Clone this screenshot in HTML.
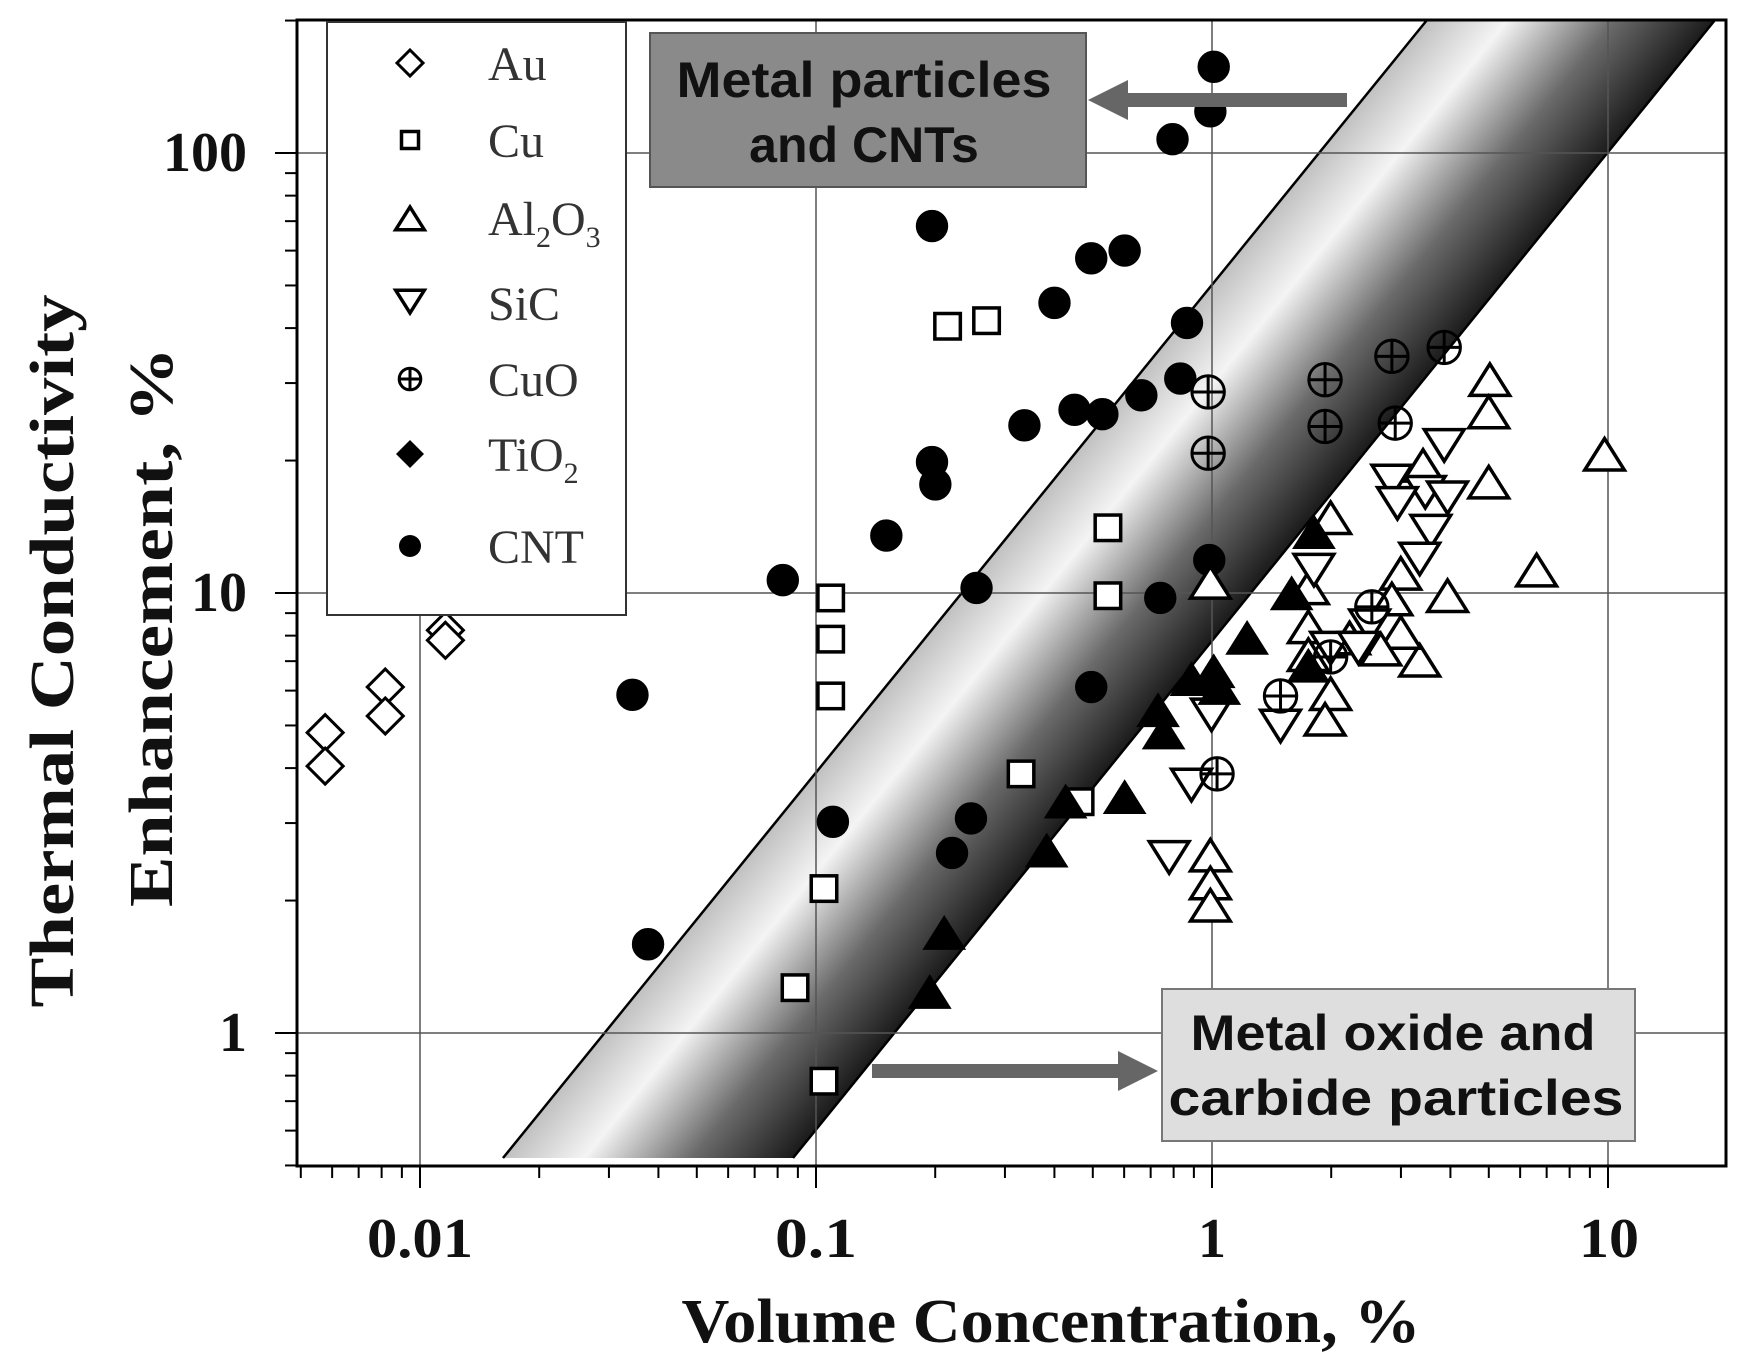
<!DOCTYPE html>
<html><head><meta charset="utf-8"><style>
html,body{margin:0;padding:0;background:#fff;width:1746px;height:1358px;overflow:hidden}
svg{display:block}
.serif{font-family:"Liberation Serif",serif;font-weight:bold}
.sans{font-family:"Liberation Sans",sans-serif;font-weight:bold}
</style></head><body>
<svg id="s" width="1746" height="1358" viewBox="0 0 1746 1358" xmlns="http://www.w3.org/2000/svg">
<defs>
<linearGradient id="g" gradientUnits="userSpaceOnUse" x1="503" y1="1158" x2="678" y2="1300">
<stop offset="0" stop-color="#c0c0c0"/><stop offset="0.28" stop-color="#f4f4f4"/><stop offset="0.65" stop-color="#6a6a6a"/><stop offset="1" stop-color="#1a1a1a"/>
</linearGradient>
<clipPath id="c"><rect x="297" y="20" width="1429" height="1146"/></clipPath>
</defs>
<g clip-path="url(#c)">
<polygon points="503,1158 1427,20 1715,20 793,1158" fill="url(#g)"/>
<line x1="503" y1="1158" x2="1427" y2="20" stroke="#000" stroke-width="2.5"/>
<line x1="793" y1="1158" x2="1715" y2="20" stroke="#000" stroke-width="2.5"/>
</g>
<g id="grid" stroke="#555" stroke-width="1.5"></g>
<g id="pts"></g>
<rect x="297" y="20" width="1429" height="1146" fill="none" stroke="#000" stroke-width="3"/>
<g id="ticks" stroke="#000" stroke-width="2"></g>
<rect x="327" y="22" width="299" height="593" fill="#fff" stroke="#333" stroke-width="2"/>
<g id="leg"></g>
<g font-family="Liberation Serif, serif" font-size="48" fill="#333">
<text x="488" y="80">Au</text>
<text x="488" y="157">Cu</text>
<text x="488" y="235">Al<tspan font-size="30" dy="12">2</tspan><tspan dy="-12">O</tspan><tspan font-size="30" dy="12">3</tspan></text>
<text x="488" y="320">SiC</text>
<text x="488" y="396">CuO</text>
<text x="488" y="471">TiO<tspan font-size="30" dy="12">2</tspan></text>
<text x="488" y="563">CNT</text>
</g>
<rect x="650" y="33" width="436" height="154" fill="#8a8a8a" stroke="#555" stroke-width="2"/>
<text class="sans" font-size="50" x="864" y="97" text-anchor="middle" fill="#111" textLength="375" lengthAdjust="spacingAndGlyphs">Metal particles</text>
<text class="sans" font-size="50" x="864" y="162" text-anchor="middle" fill="#111">and CNTs</text>
<line x1="1347" y1="100" x2="1120" y2="100" stroke="#666" stroke-width="14"/>
<polygon points="1088,100 1128,80 1128,120" fill="#666"/>
<rect x="1162" y="989" width="473" height="152" fill="#dedede" stroke="#777" stroke-width="2"/>
<text class="sans" font-size="50" x="1393" y="1050" text-anchor="middle" fill="#111" textLength="405" lengthAdjust="spacingAndGlyphs">Metal oxide and</text>
<text class="sans" font-size="50" x="1396" y="1115" text-anchor="middle" fill="#111" textLength="455" lengthAdjust="spacingAndGlyphs">carbide particles</text>
<line x1="872" y1="1071" x2="1125" y2="1071" stroke="#666" stroke-width="14"/>
<polygon points="1158,1071 1118,1051 1118,1091" fill="#666"/>
<g class="serif" font-size="56" fill="#111" text-anchor="middle">
<text x="420" y="1257" textLength="106" lengthAdjust="spacingAndGlyphs">0.01</text><text x="816" y="1257" textLength="82" lengthAdjust="spacingAndGlyphs">0.1</text><text x="1212" y="1257">1</text><text x="1609" y="1257" textLength="60" lengthAdjust="spacingAndGlyphs">10</text>
</g>
<g class="serif" font-size="56" fill="#111" text-anchor="end">
<text x="247" y="171">100</text><text x="247" y="611">10</text><text x="247" y="1051">1</text>
</g>
<text class="serif" font-size="62" x="1051" y="1342" text-anchor="middle" fill="#111" textLength="739" lengthAdjust="spacingAndGlyphs">Volume Concentration, %</text>
<text class="serif" font-size="62" transform="translate(73,651) rotate(-90)" text-anchor="middle" fill="#111" textLength="713" lengthAdjust="spacingAndGlyphs">Thermal Conductivity</text>
<text class="serif" font-size="62" transform="translate(172,627) rotate(-90)" text-anchor="middle" fill="#111" textLength="560" lengthAdjust="spacingAndGlyphs">Enhancement, %</text>
</svg>
<script>
var NS="http://www.w3.org/2000/svg";
function el(p,t,a){var e=document.createElementNS(NS,t);for(var k in a)e.setAttribute(k,a[k]);p.appendChild(e);return e;}
var X=function(v){return 1212+396*Math.log10(v)}, Y=function(v){return 1033-440*Math.log10(v)};
var grid=document.getElementById('grid'),ticks=document.getElementById('ticks');
[0.01,0.1,1,10].forEach(function(v){el(grid,'line',{x1:X(v),y1:20,x2:X(v),y2:1166});});
[1,10,100].forEach(function(v){el(grid,'line',{x1:297,y1:Y(v),x2:1726,y2:Y(v)});});
for(var d=-3;d<=1;d++)for(var m=1;m<10;m++){var v=m*Math.pow(10,d);var x=X(v);if(x<297||x>1726)continue;el(ticks,'line',{x1:x,y1:1166,x2:x,y2:1166+(m==1?22:12)});}
for(var d=-1;d<=2;d++)for(var m=1;m<10;m++){var v=m*Math.pow(10,d);var y=Y(v);if(y<20||y>1166)continue;el(ticks,'line',{x1:297,y1:y,x2:297-(m==1?22:12),y2:y});}
var s=1.1135, P=document.getElementById('pts');
function circ(g,x,y,r,f){el(g,'circle',{cx:x,cy:y,r:r,fill:f,stroke:'#000','stroke-width':3});}
function draw(g,type,x,y,R){
 if(type=='cnt')circ(g,x,y,R*1.05,'#000');
 else if(type=='sq')el(g,'rect',{x:x-R*0.85,y:y-R*0.85,width:R*1.7,height:R*1.7,fill:'#fff',stroke:'#000','stroke-width':3.5});
 else if(type=='dia')el(g,'polygon',{points:[x,y-R,x+R,y,x,y+R,x-R,y].join(' '),fill:'#fff',stroke:'#000','stroke-width':3});
 else if(type=='tu'||type=='tf')el(g,'polygon',{points:[x,y-R,x+R*1.1,y+R*0.75,x-R*1.1,y+R*0.75].join(' '),fill:type=='tf'?'#000':'#fff',stroke:'#000','stroke-width':3.5});
 else if(type=='td')el(g,'polygon',{points:[x,y+R,x+R*1.1,y-R*0.75,x-R*1.1,y-R*0.75].join(' '),fill:'#fff',stroke:'#000','stroke-width':3.5});
 else if(type=='cuo'){circ(g,x,y,R*0.9,'none');el(g,'line',{x1:x-R*0.9,y1:y,x2:x+R*0.9,y2:y,stroke:'#000','stroke-width':3});el(g,'line',{x1:x,y1:y-R*0.9,x2:x,y2:y+R*0.9,stroke:'#000','stroke-width':3});}
}
var D={
cnt:[[1090,60],[1087,100],[1053,125],[837,203],[980,232],[1010,225],[947,272],[1066,290],[1060,340],[920,382],[965,368],[990,372],[1025,355],[837,415],[840,435],[796,481],[877,528],[703,521],[1086,503],[1042,537],[568,624],[980,617],[748,738],[872,735],[855,766],[582,848]],
sq:[[851,293],[886,288],[995,474],[995,535],[746,537],[746,574],[746,625],[917,695],[970,720],[740,798],[714,887],[740,971]],
dia:[[292,658],[292,688],[346,617],[346,643],[400,566],[400,575]],
tu:[[1338,343],[1337,372],[1337,435],[1441,410],[1380,514],[1300,537],[1258,517],[1278,420],[1195,467],[1175,530],[1175,565],[1175,590],[1195,625],[1190,648],[1087,525],[1087,770],[1087,795],[1087,815],[1275,595],[1258,570],[1240,585],[1212,575],[1250,540]],
td:[[1297,398],[1280,440],[1300,445],[1285,475],[1275,500],[1250,430],[1255,450],[1180,510],[1195,580],[1150,650],[1070,703],[1050,768],[1088,640],[1230,560],[1220,580]],
cuo:[[1297,312],[1250,320],[1190,341],[1190,383],[1253,380],[1085,352],[1085,407],[1232,545],[1150,625],[1093,695],[1195,590]],
tf:[[1180,480],[1160,535],[1120,575],[1090,605],[1070,612],[1045,660],[1010,718],[957,722],[940,766],[848,840],[835,893],[1175,600],[1095,620],[1040,640]]
};
var R={cnt:14,sq:15,dia:18,tu:18,td:18,cuo:18,tf:17};
for(var t in D)D[t].forEach(function(p){draw(P,t,p[0]*s,p[1]*s,R[t]);});
var L=document.getElementById('leg');
draw(L,'dia',410,63,13);draw(L,'sq',410,140,10);draw(L,'tu',410,220,13);draw(L,'td',410,300,13);draw(L,'cuo',410,379,12);
el(L,'polygon',{points:'410,440 424,454 410,468 396,454',fill:'#000'});
el(L,'circle',{cx:410,cy:546,r:11,fill:'#000'});
</script>
</body></html>
